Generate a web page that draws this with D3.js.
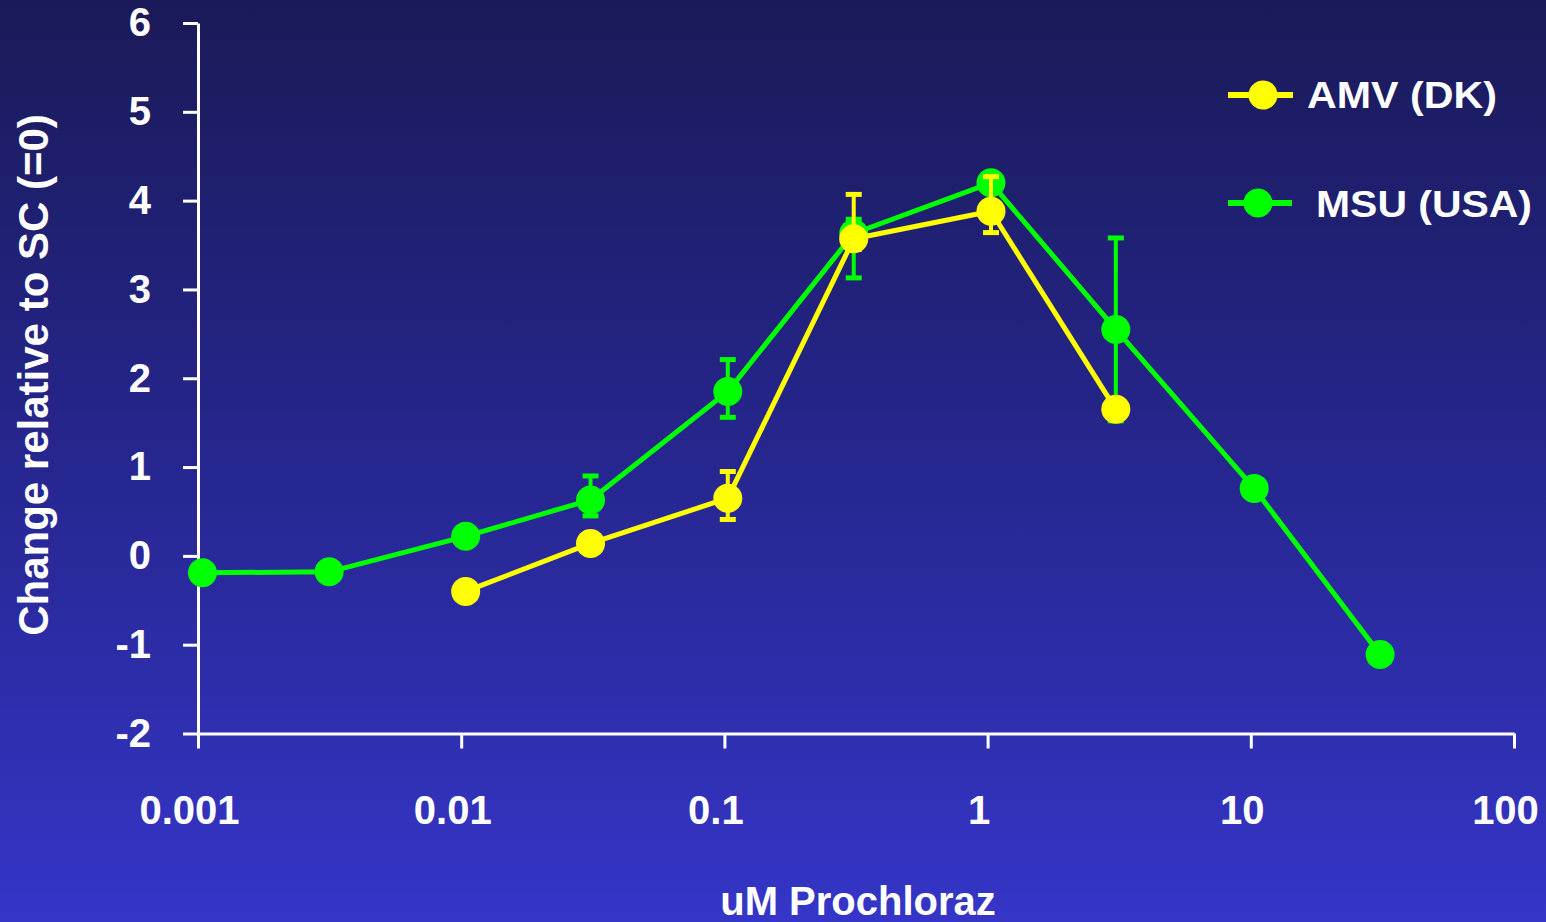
<!DOCTYPE html>
<html>
<head>
<meta charset="utf-8">
<script src="https://cdn.jsdelivr.net/npm/d3@7"></script>
<style>
  html, body { margin: 0; padding: 0; background: #22227a; }
  svg { display: block; }
  text { font-family: "Liberation Sans", Arial, Helvetica, sans-serif; font-weight: bold; fill: #ffffff; }
</style>
</head>
<body>
<script>
// Axis ticks
const xTickValues = [0.001, 0.01, 0.1, 1, 10, 100];
const xTickLabels = ["0.001", "0.01", "0.1", "1", "10", "100"];
const yTickValues = [-2, -1, 0, 1, 2, 3, 4, 5, 6];

// AMV (DK): dose (uM), mean change, error-bar bounds (null = no bar)
const amvDose  = [0.0104, 0.031, 0.103, 0.31, 1.03, 3.07];
const amvValue = [-0.40, 0.14, 0.65, 3.57, 3.88, 1.65];
const amvLow   = [null, null, 0.41, 3.45, 3.64, null];
const amvHigh  = [null, null, 0.95, 4.07, 4.27, null];

// MSU (USA)
const msuDose  = [0.00104, 0.00315, 0.0104, 0.031, 0.103, 0.31, 1.03, 3.07, 10.3, 31];
const msuValue = [-0.19, -0.18, 0.22, 0.63, 1.85, 3.63, 4.20, 2.55, 0.76, -1.11];
const msuLow   = [null, null, null, 0.45, 1.56, 3.13, null, 1.52, null, null];
const msuHigh  = [null, null, null, 0.90, 2.21, 3.79, null, 3.58, null, null];

const seriesNames  = ["AMV (DK)", "MSU (USA)"];
const seriesColors = ["#ffff00", "#00ff00"];

const W = 1546, H = 922;

const svg = d3.select("body").append("svg")
  .attr("width", W).attr("height", H);

// background gradient
const defs = svg.append("defs");
const grad = defs.append("linearGradient")
  .attr("id", "bg").attr("x1", 0).attr("y1", 0).attr("x2", 0).attr("y2", 1);
grad.append("stop").attr("offset", "0%").attr("stop-color", "#1a1a58");
grad.append("stop").attr("offset", "50%").attr("stop-color", "#26268f");
grad.append("stop").attr("offset", "100%").attr("stop-color", "#3535c8");
svg.append("rect").attr("width", W).attr("height", H).attr("fill", "url(#bg)");

const x = d3.scaleLog().domain([0.001, 100]).range([198, 1514]);
const y = d3.scaleLinear().domain([-2, 6]).range([733.5, 23]);

// axes
const yAxis = d3.axisLeft(y)
  .tickValues(yTickValues)
  .tickFormat(d => String(d))
  .tickSize(15).tickSizeOuter(0).tickPadding(32);
const gy = svg.append("g").attr("transform", `translate(${x(0.001)},0)`).call(yAxis);

const xAxis = d3.axisBottom(x)
  .tickValues(xTickValues)
  .tickFormat((d, i) => xTickLabels[i])
  .tickSize(15).tickSizeOuter(0).tickPadding(47);
const gx = svg.append("g").attr("transform", `translate(0,${y(-2)})`).call(xAxis);

[gx, gy].forEach(g => {
  g.select(".domain").attr("stroke", "#ffffff").attr("stroke-width", 3);
  g.selectAll(".tick line").attr("stroke", "#ffffff").attr("stroke-width", 3);
  g.selectAll(".tick text")
    .attr("fill", "#ffffff")
    .style("font-size", "40px")
    .style("font-weight", "bold")
    .style("font-family", '"Liberation Sans", Arial, sans-serif');
});
gx.selectAll(".tick text").attr("dx", -9);

// axis titles
svg.append("text")
  .attr("transform", `translate(48,375) rotate(-90)`)
  .attr("text-anchor", "middle")
  .style("font-size", "42px")
  .text("Change relative to SC (=0)");

svg.append("text")
  .attr("x", 858).attr("y", 915)
  .attr("text-anchor", "middle")
  .style("font-size", "40px")
  .text("uM Prochloraz");

// series
const series = [
  { dose: msuDose, value: msuValue, low: msuLow, high: msuHigh, color: seriesColors[1] },
  { dose: amvDose, value: amvValue, low: amvLow, high: amvHigh, color: seriesColors[0] }
];

const line = d3.line().x(d => x(d.dose)).y(d => y(d.value));
const capHalf = 8;

series.forEach(s => {
  const pts = s.dose.map((d, i) => ({ dose: d, value: s.value[i], low: s.low[i], high: s.high[i] }));
  const g = svg.append("g");
  g.append("path").datum(pts)
    .attr("d", line)
    .attr("fill", "none")
    .attr("stroke", s.color)
    .attr("stroke-width", 5)
    .attr("stroke-linejoin", "round");

  const eb = pts.filter(p => p.low !== null);
  const ebG = g.selectAll("g.err").data(eb).enter().append("g").attr("class", "err");
  ebG.append("line")
    .attr("x1", p => x(p.dose)).attr("x2", p => x(p.dose))
    .attr("y1", p => y(p.low)).attr("y2", p => y(p.high))
    .attr("stroke", s.color).attr("stroke-width", 4);
  ebG.append("line")
    .attr("x1", p => x(p.dose) - capHalf).attr("x2", p => x(p.dose) + capHalf)
    .attr("y1", p => y(p.high)).attr("y2", p => y(p.high))
    .attr("stroke", s.color).attr("stroke-width", 5);
  ebG.append("line")
    .attr("x1", p => x(p.dose) - capHalf).attr("x2", p => x(p.dose) + capHalf)
    .attr("y1", p => y(p.low)).attr("y2", p => y(p.low))
    .attr("stroke", s.color).attr("stroke-width", 5);

  g.selectAll("circle").data(pts).enter().append("circle")
    .attr("cx", p => x(p.dose)).attr("cy", p => y(p.value))
    .attr("r", 14.5)
    .attr("fill", s.color);
});

// legend
const legendRows = [
  { name: seriesNames[0], color: seriesColors[0], x1: 1228, x2: 1293, cx: 1263, cy: 95, tx: 1307, ty: 108, len: 190 },
  { name: seriesNames[1], color: seriesColors[1], x1: 1228, x2: 1292, cx: 1258, cy: 203, tx: 1316, ty: 217, len: 216 }
];
const lg = svg.append("g");
legendRows.forEach(r => {
  lg.append("line").attr("x1", r.x1).attr("x2", r.x2).attr("y1", r.cy).attr("y2", r.cy)
    .attr("stroke", r.color).attr("stroke-width", 6);
  lg.append("circle").attr("cx", r.cx).attr("cy", r.cy).attr("r", 14.5).attr("fill", r.color);
  lg.append("text").attr("x", r.tx).attr("y", r.ty)
    .style("font-size", "37px")
    .attr("textLength", r.len).attr("lengthAdjust", "spacingAndGlyphs")
    .text(r.name);
});
</script>
</body>
</html>
